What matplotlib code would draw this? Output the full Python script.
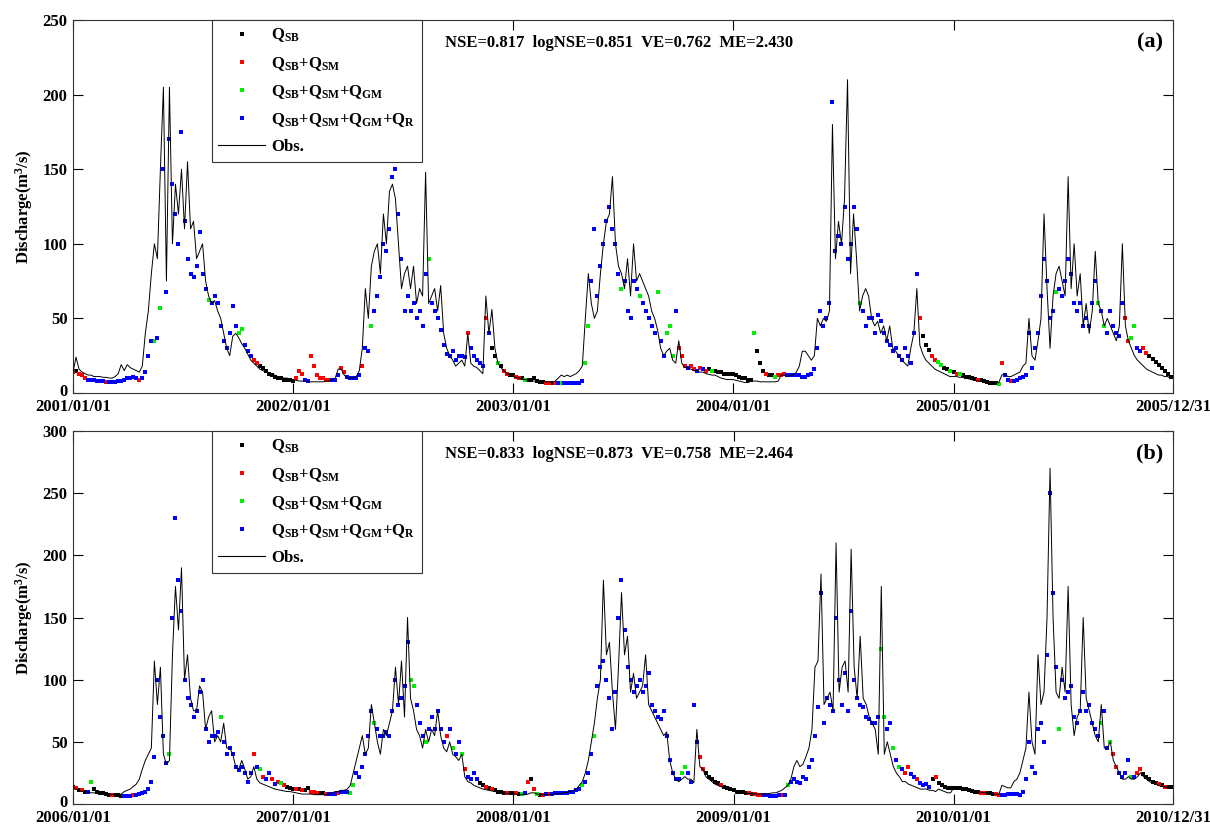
import numpy as np
import pandas as pd
import matplotlib
matplotlib.use('Agg')
import matplotlib.pyplot as plt
import matplotlib.dates as mdates
import matplotlib.transforms as mtransforms
from matplotlib.lines import Line2D

# ---------------- data (one value every 5 days from 1 January) ----------------
STEP_DAYS = 5

obs_2001 = [14,24,16,14,13,12,12,11,11,11,10.5,10.5,10,10,11,13,19,15,19,17,16,15,14,18,40,55,80,100,90,150,205,75,205,100,140,120,150,110,155,110,115,90,95,100,75,65,60,62,55,50,40,30,25,38,40,37,33,30,26,22,20,18,16,15,14,13,12.5,12,11,10.5,10,10,9.5]
sim_2001 = [14,15,13,12,10,9,9,8.5,8,8,8,7.5,7.5,7.5,7.5,8,8,9,10,10,10.5,10,9,10,14,25,35,35,37,57,150,68,170,140,120,100,175,115,90,80,78,85,108,80,70,62,60,65,60,45,35,30,40,58,45,40,43,32,28,25,22,20,18,17,15,13,12,11,10,10,9,9,8.5]
src_2001 = "rkrrr" + "b"*6 + "r" + "b"*10 + "r" + "b"*4 + "gbg" + "b"*15 + "g" + "b"*9 + "gg" + "bbb" + "rr" + "k"*11

obs_2002 = [9,8.5,8,8,8,7.5,7.5,7.5,7.5,7.5,7.5,8,8,9,10,16,16,12,10,10,10,11,15,30,70,50,85,95,100,80,120,100,135,140,130,100,70,80,85,70,
            85,60,70,65,148,60,65,70,55,72,40,30,25,22,18,20,22,18,40,20,18,17,15,13,65,40,56,30,20,17,15,13,12]
sim_2002 = [8,10,15,13,9,8,25,18,12,10,10,9,9,9,9,12,17,14,11,10,10,10,12,18,30,28,45,55,65,78,100,95,110,145,150,120,90,55,65,55,
            60,50,55,45,80,90,60,55,50,42,32,26,25,28,22,25,25,24,40,30,25,22,20,18,50,40,30,25,20,18,15,13,12]
src_2002 = "krrrbbrrrrrrrbbbrrbbbbbrbbg" + "b"*13 + "bbbbbg" + "b"*12 + "r" + "b"*5 + "r" + "b" + "kkgkrrk"

obs_2003 = [11,10.5,10,9.5,9,8.5,8,8,7.5,7.5,7.5,7.5,7.5,7,8,10,12,11,12,11,12,13,15,18,50,80,60,50,55,80,100,115,120,145,100,85,80,70,90,65,100,75,80,75,70,65,55,50,42,30,25,28,30,22,20,35,20,17,17,16,15,15,14,14,13,12.5,12,12,11,10,9.5,9,9]
sim_2003 = [12,11,10,10,9,9,8.5,10,8,7.5,7.5,7,7,7,7,6.5,6.5,6.5,6.5,6.5,6.5,6.5,7,8,20,45,75,110,65,85,100,115,125,110,100,80,70,75,55,50,75,70,65,60,55,50,45,40,68,35,25,40,45,25,55,30,25,18,17,18,16,15,17,16,15,16,15,15,14,14,13,13,13]
src_2003 = "krrkg" + "k"*6 + "rrkrbg" + "b"*7 + "gg" + "b"*10 + "g" + "b"*5 + "g" + "b"*5 + "g" + "bb" + "ggg" + "b" + "rrr" + "b" + "rr" + "brbr" + "kg" + "k"*6

obs_2004 = [9,8.5,8,7.5,7,7,8,8,8,7.5,7.5,7.5,7.5,7.5,7.5,8,12,12,11,12,12,14,18,28,28,25,22,25,50,45,50,48,55,180,90,115,100,130,210,80,120,90,55,65,70,65,50,45,48,40,45,35,45,30,28,25,22,20,18,30,40,70,32,26,22,20,18,16,15,14,13,12,11]
sim_2004 = [13,12,11,10,10,9,9,40,28,20,15,13,12,12,11,12,12,13,12,12,12,12,12,11,11,12,13,16,30,55,45,50,60,195,95,105,100,125,90,100,125,110,60,55,45,50,50,40,52,48,40,35,32,28,30,25,22,30,25,20,40,80,50,38,32,29,25,22,21,19,17,16,15]
src_2004 = "k"*7 + "g" + "kkk" + "r" + "kk" + "g" + "rrr" + "b"*24 + "g" + "b"*19 + "r" + "kkk" + "rr" + "gg" + "kk" + "g"

obs_2005 = [11,11,10.5,10.5,10,9.5,9,8.5,8,8,7.5,7.5,7,7,6.5,7,12,13,11,11,12,13,14,18,20,50,25,22,35,50,120,70,30,65,80,85,75,65,145,70,100,65,80,45,60,40,55,95,60,55,45,50,45,40,35,45,100,45,35,30,25,22,20,18,16,15,14,13,12,12,11,11,10]
sim_2005 = [14,13,13,12,11,10.5,10,9.5,9,8.5,8,7.5,7,7,6.5,6,20,12,9,8,8,9,10,11,12,40,17,30,40,65,90,75,50,55,68,70,65,75,90,80,60,55,60,45,50,45,60,75,60,55,45,40,55,45,40,38,60,50,35,37,45,30,28,30,27,25,23,21,19,17,15,13,11]
src_2005 = "krg" + "k"*5 + "r" + "k"*6 + "grbbr" + "b"*14 + "g" + "b"*13 + "gbg" + "b"*6 + "rrggbbrr" + "k"*8

obs_2006 = [14,12,11,10,10,9.5,9,9,8.5,8.5,8,8,7.5,7.5,7.5,7.5,8,10,11,12,14,16,20,28,35,40,45,115,80,110,40,32,35,120,175,140,190,100,120,85,75,75,95,90,60,70,75,50,55,50,65,45,45,40,30,28,35,28,20,22,30,20,17,16,15,14,13,12,11.5,11,10.5,10,10]
sim_2006 = [14,13,11,11,10,10,18,12,10,9,8.5,8,7.5,7.5,7,7,6.5,6.5,6.5,6.5,7,7.5,8,9,10,12,18,38,100,70,55,33,40,150,230,180,155,100,85,80,70,75,90,100,60,50,55,55,58,70,50,40,45,40,30,27,30,25,18,25,40,30,28,22,20,25,20,16,18,17,15,14,13]
src_2006 = "krkrkbg" + "k"*6 + "r" + "kkk" + "bbb" + "r" + "b"*11 + "g" + "b"*16 + "g" + "b"*10 + "rbgrbbrbrgr" + "kk"

obs_2007 = [9.5,9,8.5,8,8,8,8,7.5,7.5,7.5,7.5,7.5,8,9,10,10,11,11,12,15,25,35,45,55,40,45,80,65,50,40,60,55,65,75,110,80,115,70,150,85,75,60,55,45,60,50,60,55,75,55,45,42,50,40,38,35,40,22,18,17,15,14,13,12,11.5,11,10.5,10,9.5,9,9,8.5,8]
sim_2007 = [12,12,12,11,11,13,10,9.5,9,9,8.5,8,8,8,8,9,10,10,10,9,15,25,22,30,40,55,75,65,60,55,55,58,55,75,100,80,85,95,130,100,95,80,65,55,50,60,70,60,75,60,50,55,60,45,40,50,40,28,22,20,25,20,17,15,14,13,12,11,10,10,9,9,8.5]
src_2007 = "krkrkkrrrkkr" + "bbb" + "r" + "bbb" + "gg" + "b"*6 + "g" + "b"*11 + "gg" + "bbb" + "g" + "b"*6 + "rbgbbgr" + "b"*4 + "kkrkr" + "k"*4 + "rk"

obs_2008 = [8,8,7.5,7.5,7.5,8,9,9,8,7.5,7.5,7.5,7.5,7.5,8,8,8.5,9,9.5,10,11,12,15,18,25,35,50,65,85,100,180,120,130,90,60,110,170,120,135,90,105,85,90,95,120,80,75,70,65,60,55,58,35,25,20,18,20,22,20,20,17,60,30,28,22,20,18,16,15,14,13,12,11.5]
sim_2008 = [9,8.5,8,8,9,18,20,12,8,7.5,7.5,8,8,8,8.5,8.5,9,9,9,9.5,10,11,12,15,18,25,40,55,95,110,115,100,85,60,90,150,180,140,110,100,90,95,100,90,95,105,80,75,70,68,75,55,35,25,20,20,25,30,25,18,80,50,38,28,25,22,20,18,17,15,14,13,12]
src_2008 = "krkgbrkrgkrbr" + "b"*10 + "g" + "bbb" + "g" + "b"*28 + "gg" + "bbbb" + "rr" + "k"*5 + "r" + "kkk"

obs_2009 = [11,10.5,10,9.5,9,8.5,8.5,8,8,8,8,8,8.5,9,9,10,11,13,15,20,30,35,30,32,38,45,60,110,115,185,80,85,90,75,210,90,110,115,90,205,110,85,135,85,80,70,65,60,40,175,40,50,40,30,25,22,18,18,16,15,14,13,12,12,12,11,11,10,12,11,10,9,9]
sim_2009 = [11,10,10,9.5,9,8.5,8,8,7.5,7,7,7,6.5,6.5,6.5,7,7,7,15,18,20,18,17,22,20,30,35,55,78,170,65,85,80,75,150,100,80,105,75,155,100,85,80,78,70,68,65,65,70,125,70,60,65,45,35,30,28,25,30,24,22,20,17,15,16,14,20,22,17,15,14,13,13]
src_2009 = "k"*5 + "rkrrr" + "b"*6 + "rbg" + "b"*30 + "ggbbgbgbrrbbr" + "b"*4 + "kr" + "k"*5

obs_2010 = [13,13,12.5,12,11.5,11,10.5,10,10,9.5,9,9,8.5,8,8,7.5,15,14,13,13,18,20,25,35,45,90,50,40,120,80,90,150,270,150,90,85,110,90,175,80,55,70,75,150,85,75,65,55,50,80,45,45,50,35,30,25,20,20,22,20,20,22,25,22,20,18,17,16,15,14,14,13,13]
sim_2010 = [13,13,12.5,12,12,11,10.5,10,9.5,9,9,8.5,8.5,8,8,7.5,7,7,8,8,8,8,7.5,10,20,50,30,25,60,65,50,120,250,170,110,60,100,85,90,95,70,65,75,90,75,80,65,60,55,65,75,45,50,40,30,25,22,25,35,22,22,25,28,24,22,20,18,17,16,15,14,14,14]
src_2010 = "k"*9 + "rr" + "kkk" + "rr" + "b"*19 + "g" + "b"*13 + "gbbgrr" + "b"*4 + "gbrr" + "k"*5 + "rkrkk"

years_a = [2001, 2002, 2003, 2004, 2005]
years_b = [2006, 2007, 2008, 2009, 2010]
obs_all = {2001: obs_2001, 2002: obs_2002, 2003: obs_2003, 2004: obs_2004, 2005: obs_2005,
           2006: obs_2006, 2007: obs_2007, 2008: obs_2008, 2009: obs_2009, 2010: obs_2010}
sim_all = {2001: sim_2001, 2002: sim_2002, 2003: sim_2003, 2004: sim_2004, 2005: sim_2005,
           2006: sim_2006, 2007: sim_2007, 2008: sim_2008, 2009: sim_2009, 2010: sim_2010}
src_all = {2001: src_2001, 2002: src_2002, 2003: src_2003, 2004: src_2004, 2005: src_2005,
           2006: src_2006, 2007: src_2007, 2008: src_2008, 2009: src_2009, 2010: src_2010}

stats_a = "NSE=0.817  logNSE=0.851  VE=0.762  ME=2.430"
stats_b = "NSE=0.833  logNSE=0.873  VE=0.758  ME=2.464"
ymax_a, ymax_b = 250, 300

labels = {'k': r'$\mathrm{Q_{SB}}$',
          'r': r'$\mathrm{Q_{SB}{+}Q_{SM}}$',
          'g': r'$\mathrm{Q_{SB}{+}Q_{SM}{+}Q_{GM}}$',
          'b': r'$\mathrm{Q_{SB}{+}Q_{SM}{+}Q_{GM}{+}Q_{R}}$'}
colors = {'k': '#000000', 'r': '#ff0000', 'g': '#00ee00', 'b': '#0000ff'}

# ---------------- style ----------------
plt.rcParams['font.family'] = ['Liberation Serif', 'DejaVu Serif']
plt.rcParams['font.weight'] = 'bold'
plt.rcParams['mathtext.fontset'] = 'custom'
plt.rcParams['mathtext.rm'] = 'Liberation Serif:bold'
plt.rcParams['mathtext.it'] = 'Liberation Serif:bold'
plt.rcParams['mathtext.bf'] = 'Liberation Serif:bold'

fig = plt.figure(figsize=(12.1, 8.26), dpi=100)
W, H = 1210, 826
ax_a = fig.add_axes([73 / W, 1 - 393 / H, 1100 / W, 373 / H])
ax_b = fig.add_axes([73 / W, 1 - 804 / H, 1100 / W, 373 / H])


def draw(ax, years, ymax, stats, tag, end_label):
    xs_all, obs_line = [], []
    pts = {c: ([], []) for c in 'krgb'}
    for y in years:
        o, s, c = obs_all[y], sim_all[y], src_all[y]
        n = min(len(o), len(s), len(c))
        dates = pd.Timestamp(f'{y}-01-01') + pd.to_timedelta(np.arange(n) * STEP_DAYS, unit='D')
        xn = mdates.date2num(dates.to_pydatetime())
        xs_all.extend(xn)
        obs_line.extend(o[:n])
        for xi, si, ci in zip(xn, s[:n], c[:n]):
            pts[ci][0].append(xi)
            pts[ci][1].append(si)
    for ci in 'krgb':
        ax.plot(pts[ci][0], pts[ci][1], ls='none', marker='s', ms=2.7, mew=0,
                color=colors[ci], zorder=2)
    ax.plot(xs_all, obs_line, color='black', lw=0.7, zorder=3)

    start = mdates.date2num(pd.Timestamp(f'{years[0]}-01-01'))
    end = mdates.date2num(pd.Timestamp(f'{years[-1]}-12-31'))
    ax.set_xlim(start, end)
    ax.set_ylim(0, ymax)
    ticks = [mdates.date2num(pd.Timestamp(f'{y}-01-01')) for y in years] + [end]
    ax.set_xticks(ticks)
    ax.set_xticklabels([f'{y}/01/01' for y in years] + [end_label])
    ax.set_yticks(np.arange(0, ymax + 1, 50))
    ax.tick_params(direction='in', length=7, width=0.8, top=True, right=True,
                   labelsize=12, colors='black')
    ax.tick_params(axis='x', pad=4)
    ax.tick_params(axis='y', pad=4)
    for lab in ax.get_xticklabels() + ax.get_yticklabels():
        lab.set_fontweight('bold')
    # lift the "0" label a hair so it does not collide with the first date label
    zero = ax.yaxis.get_major_ticks()[0].label1
    zero.set_transform(zero.get_transform() +
                       mtransforms.ScaledTranslation(0, 3 / 100, fig.dpi_scale_trans))
    for sp in ax.spines.values():
        sp.set_linewidth(0.8)
        sp.set_color('#333333')
    ax.set_ylabel(r'Discharge(m$^{3}$/s)', fontsize=12, fontweight='bold', labelpad=5)

    ax.text(0.496, 0.938, stats, transform=ax.transAxes, ha='center', va='center',
            fontsize=12, fontweight='bold')
    ax.text(0.979, 0.94, tag, transform=ax.transAxes, ha='center', va='center',
            fontsize=16, fontweight='bold')

    handles = [Line2D([], [], ls='none', marker='s', ms=2.7, mew=0, color=colors[c]) for c in 'krgb']
    handles.append(Line2D([], [], color='black', lw=0.8))
    leg = ax.legend(handles, [labels[c] for c in 'krgb'] + ['Obs.'],
                    loc='upper left', bbox_to_anchor=(0.126, 1.0), borderaxespad=0,
                    fancybox=False, framealpha=1, edgecolor='#333333',
                    handlelength=2.8, handletextpad=0.35, labelspacing=0.62,
                    borderpad=0.4, prop={'family': 'Liberation Serif', 'weight': 'bold', 'size': 12})
    leg.get_frame().set_linewidth(0.8)


draw(ax_a, years_a, ymax_a, stats_a, '(a)', '2005/12/31')
draw(ax_b, years_b, ymax_b, stats_b, '(b)', '2010/12/31')

fig.savefig('out.png', dpi=100)
